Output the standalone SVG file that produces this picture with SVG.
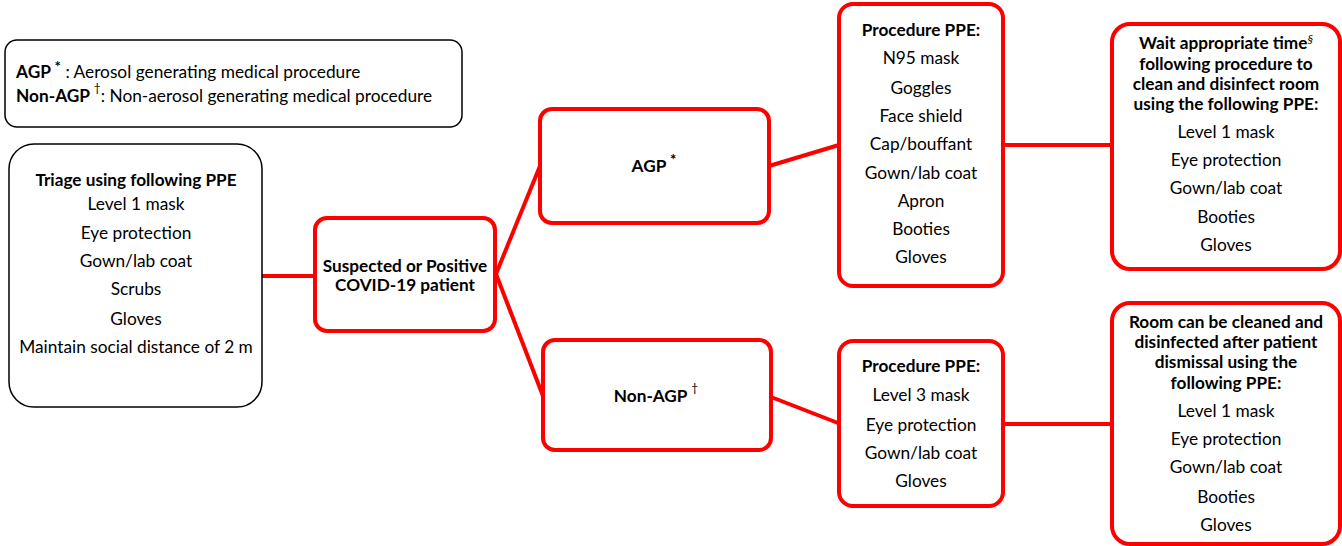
<svg xmlns="http://www.w3.org/2000/svg" width="1342" height="546" viewBox="0 0 1342 546">
<style>
text{font-family:Lato,"Open Sans",sans-serif;font-size:17.3px;fill:#000;text-anchor:middle}
.b{font-weight:bold;font-size:17.2px}
.l{text-anchor:start}
.sup{font-size:12px}
.ast{font-size:15px;font-weight:bold}
.blk{fill:#fff;stroke:#000;stroke-width:1.5}
.red{fill:#fff;stroke:#f00;stroke-width:4}
.con{stroke:#f00;stroke-width:4;fill:none}
</style>
<rect width="1342" height="546" fill="#fff"/>
<g id="connectors">
<line class="con" x1="262" y1="276" x2="315" y2="276"/>
<line class="con" x1="496" y1="274" x2="540" y2="166"/>
<line class="con" x1="496" y1="274" x2="543" y2="396"/>
<line class="con" x1="769" y1="166" x2="839" y2="145"/>
<line class="con" x1="771" y1="397" x2="838" y2="423"/>
<line class="con" x1="1003" y1="145" x2="1111" y2="145"/>
<line class="con" x1="1003" y1="424" x2="1111" y2="424"/>
</g>
<g id="legend">
<rect class="blk" x="5" y="40" width="457" height="87" rx="12"/>
<text class="l" x="16" y="78"><tspan font-weight="bold">AGP </tspan><tspan class="ast" dy="-6">*</tspan><tspan dy="6"> : Aerosol generating medical procedure</tspan></text>
<text class="l" x="16" y="102"><tspan font-weight="bold">Non-AGP </tspan><tspan class="sup" dy="-10">†</tspan><tspan dy="10">: Non-aerosol generating medical procedure</tspan></text>
</g>
<g id="triage">
<rect class="blk" x="9" y="144" width="253" height="263" rx="25"/>
<text class="b" x="136" y="186">Triage using following PPE</text>
<text x="136" y="210">Level 1 mask</text>
<text x="136" y="239">Eye protection</text>
<text x="136" y="267">Gown/lab coat</text>
<text x="136" y="295">Scrubs</text>
<text x="136" y="325">Gloves</text>
<text x="136" y="353">Maintain social distance of 2 m</text>
</g>
<g id="patient">
<rect class="red" x="315" y="218" width="180" height="113" rx="12"/>
<text class="b" x="405" y="272">Suspected or Positive</text>
<text class="b" x="405" y="291">COVID-19 patient</text>
</g>
<g id="agp">
<rect class="red" x="540" y="109" width="229" height="114" rx="12"/>
<text class="b" x="654" y="172"><tspan>AGP </tspan><tspan class="ast" dy="-7">*</tspan></text>
</g>
<g id="nonagp">
<rect class="red" x="543" y="340" width="228" height="110" rx="12"/>
<text class="b" x="656" y="402"><tspan>Non-AGP </tspan><tspan class="sup" font-weight="normal" dy="-10">†</tspan></text>
</g>
<g id="proc-agp">
<rect class="red" x="839" y="4" width="164" height="282" rx="14"/>
<text class="b" x="921" y="36">Procedure PPE:</text>
<text x="921" y="64">N95 mask</text>
<text x="921" y="94">Goggles</text>
<text x="921" y="122">Face shield</text>
<text x="921" y="150">Cap/bouffant</text>
<text x="921" y="179">Gown/lab coat</text>
<text x="921" y="207">Apron</text>
<text x="921" y="235">Booties</text>
<text x="921" y="263">Gloves</text>
</g>
<g id="proc-nonagp">
<rect class="red" x="839" y="341" width="164" height="165" rx="14"/>
<text class="b" x="921" y="372">Procedure PPE:</text>
<text x="921" y="401">Level 3 mask</text>
<text x="921" y="431">Eye protection</text>
<text x="921" y="459">Gown/lab coat</text>
<text x="921" y="487">Gloves</text>
</g>
<g id="clean-agp">
<rect class="red" x="1112" y="24" width="228" height="245" rx="18"/>
<text class="b" x="1226" y="49">Wait appropriate time<tspan class="sup" font-style="italic" font-weight="normal" dy="-6">§</tspan></text>
<text class="b" x="1226" y="70">following procedure to</text>
<text class="b" x="1226" y="90">clean and disinfect room</text>
<text class="b" x="1226" y="110">using the following PPE:</text>
<text x="1226" y="138">Level 1 mask</text>
<text x="1226" y="166">Eye protection</text>
<text x="1226" y="194">Gown/lab coat</text>
<text x="1226" y="223">Booties</text>
<text x="1226" y="251">Gloves</text>
</g>
<g id="clean-nonagp">
<rect class="red" x="1112" y="303" width="228" height="241" rx="18"/>
<text class="b" x="1226" y="328">Room can be cleaned and</text>
<text class="b" x="1226" y="348">disinfected after patient</text>
<text class="b" x="1226" y="368">dismissal using the</text>
<text class="b" x="1226" y="389">following PPE:</text>
<text x="1226" y="417">Level 1 mask</text>
<text x="1226" y="445">Eye protection</text>
<text x="1226" y="473">Gown/lab coat</text>
<text x="1226" y="503">Booties</text>
<text x="1226" y="531">Gloves</text>
</g>
</svg>
